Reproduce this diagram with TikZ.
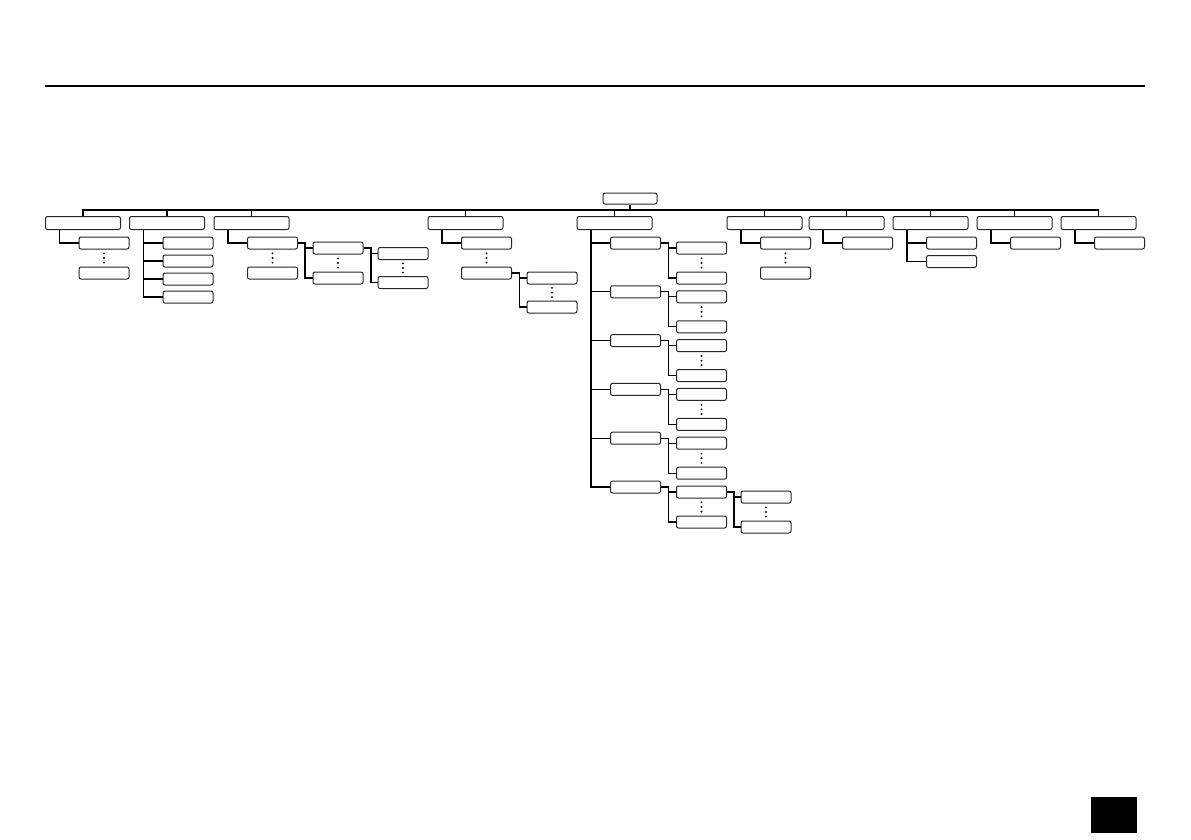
\documentclass[tikz,border=0pt]{standalone}
\usepackage{tikz}
\usetikzlibrary{calc, positioning}

\begin{document}
\begin{tikzpicture}[x=1pt, y=-1pt,
    topbox/.style={draw=black!85, line width=1pt, rounded corners=2pt, minimum width=75pt, minimum height=13pt, inner sep=0pt},
    rootbox/.style={topbox, minimum width=54pt, minimum height=11pt},
    leafbox/.style={topbox, minimum width=50pt, minimum height=12pt},
    link/.style={line width=1.2pt, black},
    vdotpic/.pic={\fill (0,-4.6) circle (1.05pt) (0,0) circle (1.05pt) (0,4.6) circle (1.05pt);}]
      \useasboundingbox (0,0) rectangle (1191,839);
      \draw[line width=2pt] (45,86) -- (1145,86);
      \fill (1091,797) rectangle (1137,833);
      % root and first row
      \node[rootbox] (root) at (630,198.5) {};
      \coordinate (bus) at (630,210);
      \node[topbox] (a) at (83,223) {};
      \node[topbox] (b) at (167,223) {};
      \node[topbox] (c) at (251.5,223) {};
      \node[topbox] (d) at (465.5,223) {};
      \node[topbox] (e) at (614.5,223) {};
      \node[topbox] (f) at (764.5,223) {};
      \node[topbox] (g) at (846.5,223) {};
      \node[topbox] (h) at (930.5,223) {};
      \node[topbox] (i) at (1014.5,223) {};
      \node[topbox] (j) at (1098.5,223) {};
      \draw[link] (root.south) -- (bus);
      \draw[link] (a.north) |- (bus) -| (j.north);
      \foreach \n in {b,c,d,e,f,g,h,i}
        \draw[link] (\n.north) -- (\n.north |- bus);
      % a
      \node[leafbox] (a1) at (104,243) {};
      \node[leafbox] (a2) at (104,273) {};
      \draw[link] ([xshift=14.5pt]a.south west) |- (a1.west);
      \pic at ($(a1)!.5!(a2)$) {vdotpic};
      % b
      \node[leafbox] (b1) at (188,243) {};
      \node[leafbox] (b2) at (188,261) {};
      \node[leafbox] (b3) at (188,279) {};
      \node[leafbox] (b4) at (188,297) {};
      \draw[link] ([xshift=14.5pt]b.south west) |- (b4.west);
      \foreach \n in {b1,b2,b3}
        \draw[link] (\n.west) -- ++(-19,0);
      % c
      \node[leafbox] (c1) at (272.5,243) {};
      \node[leafbox] (c2) at (272.5,273) {};
      \draw[link] ([xshift=14.5pt]c.south west) |- (c1.west);
      \pic at ($(c1)!.5!(c2)$) {vdotpic};
      \node[leafbox] (c11) at (338,248) {};
      \node[leafbox] (c12) at (338,278) {};
      \draw[link] (c1.east) -- ++(7,0) coordinate (c1b) |- (c12.west);
      \draw[link] (c11.west) -- (c11.west -| c1b);
      \pic at ($(c11)!.5!(c12)$) {vdotpic};
      \node[leafbox] (c111) at (403,253.5) {};
      \node[leafbox] (c112) at (403,282.5) {};
      \draw[link] (c11.east) -- ++(7.5,0) coordinate (c11b) |- (c112.west);
      \draw[link] (c111.west) -- (c111.west -| c11b);
      \pic at ($(c111)!.5!(c112)$) {vdotpic};
      % d
      \node[leafbox] (d1) at (486.5,243) {};
      \node[leafbox] (d2) at (486.5,273) {};
      \draw[link] ([xshift=14.5pt]d.south west) |- (d1.west);
      \pic at ($(d1)!.5!(d2)$) {vdotpic};
      \node[leafbox] (d21) at (552,278) {};
      \node[leafbox] (d22) at (552,307) {};
      \draw[link] (d2.east) -- ++(7.5,0) coordinate (d2b) |- (d22.west);
      \draw[link] (d21.west) -- (d21.west -| d2b);
      \pic at ($(d21)!.5!(d22)$) {vdotpic};
      % e
      \foreach \k in {0,...,5} {
        \node[leafbox] (e\k) at (635.5,243+48.8*\k) {};
        \node[leafbox] (e\k a) at (701.5,248+48.8*\k) {};
        \node[leafbox] (e\k b) at (701.5,278+48.8*\k) {};
        \draw[link] (e\k.east) -- ++(7.5,0) coordinate (e\k x) |- (e\k b.west);
        \draw[link] (e\k a.west) -- (e\k a.west -| e\k x);
        \pic at ($(e\k a)!.5!(e\k b)$) {vdotpic};
      }
      \draw[link] ([xshift=14.5pt]e.south west) |- (e5.west);
      \foreach \k in {0,...,4}
        \draw[link] (e\k.west) -- ++(-19,0);
      \node[leafbox] (e5a1) at (766,497) {};
      \node[leafbox] (e5a2) at (766,527) {};
      \draw[link] (e5a.east) -- ++(7,0) coordinate (e5ab) |- (e5a2.west);
      \draw[link] (e5a1.west) -- (e5a1.west -| e5ab);
      \pic at ($(e5a1)!.5!(e5a2)$) {vdotpic};
      % f
      \node[leafbox] (f1) at (785.5,243) {};
      \node[leafbox] (f2) at (785.5,273) {};
      \draw[link] ([xshift=14.5pt]f.south west) |- (f1.west);
      \pic at ($(f1)!.5!(f2)$) {vdotpic};
      % g
      \node[leafbox] (g1) at (867.5,243) {};
      \draw[link] ([xshift=14.5pt]g.south west) |- (g1.west);
      % h
      \node[leafbox] (h1) at (951.5,243) {};
      \node[leafbox] (h2) at (951.5,261.5) {};
      \draw[link] ([xshift=14.5pt]h.south west) |- (h2.west);
      \draw[link] (h1.west) -- ++(-19,0);
      % i
      \node[leafbox] (i1) at (1035.5,243) {};
      \draw[link] ([xshift=14.5pt]i.south west) |- (i1.west);
      % j
      \node[leafbox] (j1) at (1119.5,243) {};
      \draw[link] ([xshift=14.5pt]j.south west) |- (j1.west);
\end{tikzpicture}
\end{document}
